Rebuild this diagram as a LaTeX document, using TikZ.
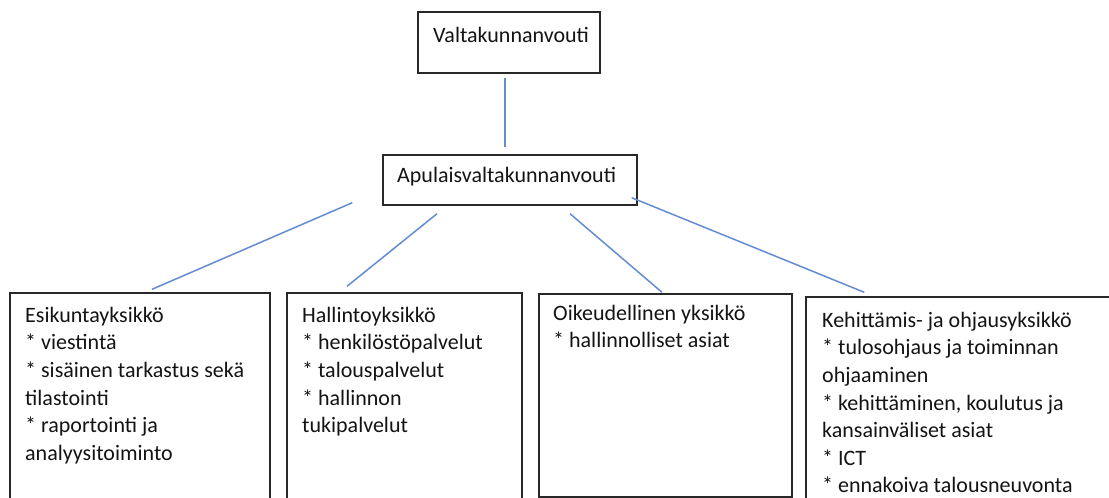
\documentclass[tikz,border=0pt]{standalone}
\usepackage{fontspec}
\setmainfont{Carlito}
\usetikzlibrary{calc}
\definecolor{linkblue}{RGB}{100,140,210}
\definecolor{boxline}{RGB}{40,40,40}
\definecolor{txt}{RGB}{20,20,20}
\tikzset{
  box/.style={draw=boxline,line width=1.4pt,rectangle,inner sep=0pt},
  label/.style={anchor=north west,inner sep=0pt,align=left,text=txt,
    font=\fontsize{22}{27.6}\selectfont},
  conn/.style={draw=linkblue,line width=1.5pt}
}
\begin{document}
\begin{tikzpicture}[x=1pt,y=-1pt]
\clip (0,0) rectangle (1109,498);
\fill[white] (0,0) rectangle (1109,498);
% boxes
\node[box,minimum width=182pt,minimum height=61pt] (top) at (509,42.5) {};
\node[box,minimum width=254pt,minimum height=50pt] (apul) at (510,180) {};
\node[box,minimum width=260pt,minimum height=227pt] (b1) at (140,406.5) {};
\node[box,minimum width=235pt,minimum height=227pt] (b2) at (404.5,406.5) {};
\node[box,minimum width=253pt,minimum height=203pt] (b3) at (665.5,395.5) {};
\node[box,minimum width=314pt,minimum height=223pt] (b4) at (963,408.5) {};
% texts
\node[label] (ttop) at (433,22.7) {\strut Valtakunnanvouti};
\node[label] (tapul) at (397,162.7) {\strut Apulaisvaltakunnanvouti};
\node[label] (t1) at (25,302.7) {\strut Esikuntayksikkö\\* viestintä\\* sisäinen tarkastus sekä\\tilastointi\\* raportointi ja\\analyysitoiminto};
\node[label] (t2) at (302,302.7) {\strut Hallintoyksikkö\\* henkilöstöpalvelut\\* talouspalvelut\\* hallinnon\\tukipalvelut};
\node[label] (t3) at (553,300.7) {\strut Oikeudellinen yksikkö\\* hallinnolliset asiat};
\node[label] (t4) at (822,307.7) {\strut Kehittämis- ja ohjausyksikkö\\* tulosohjaus ja toiminnan\\ohjaaminen\\* kehittäminen, koulutus ja\\kansainväliset asiat\\* ICT\\* ennakoiva talousneuvonta};
% connectors
\draw[conn] ($(top.south)+(-4,4)$) -- ($(apul.north)+(-5,-7)$);
\draw[conn] ($(apul.south west)+(-30,-3)$) -- ($(b1.north)+(12,-3)$);
\draw[conn] ($(apul.south)+(-73,8)$) -- ($(b2.north)+(-57.5,-6)$);
\draw[conn] ($(apul.south)+(60,8)$) -- ($(b3.north)+(-3.5,-1)$);
\draw[conn] ($(apul.south east)+(-6,-8)$) -- ($(b4.north west)+(59,-4)$);
\end{tikzpicture}
\end{document}
